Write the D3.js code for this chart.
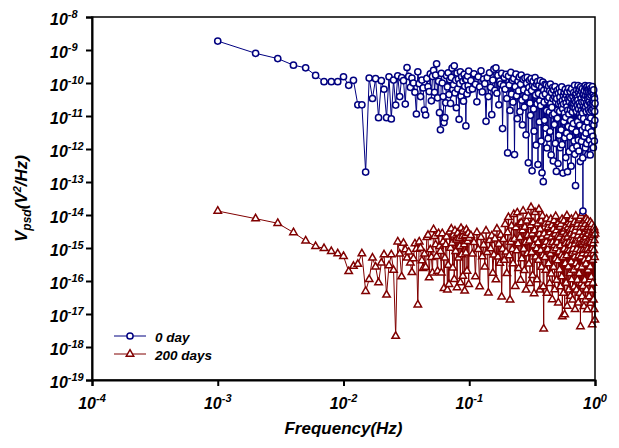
<!DOCTYPE html>
<html>
<head>
<meta charset="utf-8">
<script src="https://cdn.jsdelivr.net/npm/d3@7"></script>
<style>
  body { margin: 0; background: #fff; }
  text { font-family: Arial, "Liberation Sans", sans-serif; font-weight: bold; font-style: italic; fill: #000; }
</style>
</head>
<body>
<div id="chart"></div>
<script>
// frequency grid: 1..100 mHz in 1 mHz steps, then 0.103..1 Hz in 3 mHz steps
const lowFreq = d3.range(1, 101).map(k => +(k * 0.001).toFixed(3));
const highFreq = d3.range(1, 301).map(i => +(0.1 + i * 0.003).toFixed(3));

// log10 of PSD, 0 day
const day0Low = [
  -8.73,-9.10,-9.26,-9.46,-9.54,-9.77,-9.96,-9.96,-9.96,-9.81,
  -10.07,-9.92,-10.66,-10.66,-12.70,-9.85,-10.47,-9.87,-11.05,-9.93,
  -10.19,-11.05,-9.81,-11.09,-9.91,-10.67,-9.78,-10.41,-9.84,-9.93,
  -10.64,-9.53,-9.80,-10.13,-9.85,-10.00,-10.28,-10.94,-9.66,-10.02,
  -10.41,-9.91,-10.15,-10.82,-10.97,-9.86,-10.11,-10.26,-9.72,-10.54,
  -9.80,-9.62,-10.28,-9.76,-9.42,-10.45,-9.95,-10.90,-11.42,-9.71,
  -10.00,-10.41,-11.20,-11.05,-10.60,-9.78,-10.12,-9.69,-10.35,-9.90,
  -10.62,-9.83,-9.55,-10.20,-10.05,-9.48,-10.30,-9.92,-10.75,-9.70,
  -10.18,-9.88,-11.10,-10.02,-9.66,-10.40,-9.81,-10.25,-9.95,-10.55,
  -9.74,-10.10,-9.87,-11.30,-9.90,-10.33,-9.79,-10.08,-9.64,-10.21
];
const day0High = [
  -9.93,-10.18,-9.72,-10.04,-10.57,-9.81,-10.12,-9.63,-10.27,-9.88,
  -10.02,-11.16,-9.84,-10.41,-9.69,-10.13,-10.96,-9.91,-9.58,-10.22,
  -9.54,-10.31,-9.77,-10.66,-9.94,-10.03,-9.71,-11.38,-10.08,-9.83,
  -10.19,-9.74,-10.47,-12.12,-9.79,-10.06,-10.83,-9.68,-10.34,-9.92,
  -10.58,-9.86,-12.17,-10.11,-9.73,-10.39,-11.08,-9.94,-10.24,-9.82,
  -10.87,-10.04,-9.76,-10.52,-11.27,-9.89,-10.21,-10.73,-9.85,-10.43,
  -11.57,-10.01,-9.83,-10.28,-12.42,-10.14,-9.92,-10.61,-10.98,-9.87,
  -10.23,-12.66,-10.06,-9.95,-10.79,-11.46,-10.12,-9.84,-10.37,-11.88,
  -10.03,-10.63,-9.96,-12.47,-10.32,-10.07,-11.18,-10.54,-9.93,-10.69,
  -11.76,-10.13,-12.72,-10.38,-9.97,-12.99,-10.22,-10.58,-11.13,-10.04,
  -10.33,-11.37,-10.06,-10.84,-11.97,-10.18,-10.52,-11.68,-10.09,-10.44,
  -10.88,-10.24,-11.47,-10.03,-10.62,-12.18,-10.29,-10.74,-10.97,-10.14,
  -10.48,-12.36,-10.21,-10.93,-11.26,-10.42,-10.11,-11.83,-10.57,-10.34,
  -12.68,-10.47,-10.23,-11.07,-10.82,-12.44,-10.31,-10.63,-11.58,-10.17,
  -10.86,-10.43,-11.96,-10.58,-10.27,-11.42,-10.69,-10.12,-11.87,-10.53,
  -10.78,-12.73,-10.38,-10.64,-11.17,-10.28,-10.91,-11.66,-10.47,-10.19,
  -11.04,-12.26,-10.61,-10.36,-11.52,-10.72,-10.27,-12.69,-10.83,-10.48,
  -11.32,-10.16,-10.94,-12.08,-10.57,-10.42,-11.63,-10.26,-10.81,-11.14,
  -10.46,-12.52,-10.68,-10.18,-11.37,-10.63,-10.88,-11.98,-10.41,-10.73,
  -11.23,-10.29,-10.62,-11.76,-10.53,-10.07,-12.16,-10.77,-10.36,-13.11,
  -10.58,-10.32,-11.48,-10.86,-10.21,-11.92,-10.67,-10.44,-11.17,-10.52,
  -10.08,-11.73,-10.79,-10.27,-12.06,-10.62,-10.18,-11.28,-10.93,-10.37,
  -12.38,-10.69,-10.12,-11.03,-10.47,-10.84,-11.77,-10.26,-10.58,-11.43,
  -10.17,-10.91,-12.27,-13.88,-10.36,-10.72,-11.08,-10.33,-10.57,-11.62,
  -10.23,-10.78,-11.34,-10.46,-10.08,-11.97,-10.73,-10.38,-11.52,-10.16,
  -10.87,-10.61,-11.84,-10.27,-10.12,-11.18,-10.66,-10.43,-12.17,-10.49,
  -10.19,-11.36,-10.82,-10.28,-11.04,-10.57,-10.09,-11.73,-10.42,-10.88,
  -10.32,-12.18,-10.64,-10.17,-11.06,-10.74,-10.37,-11.48,-10.22,-10.83,
  -11.87,-10.28,-10.63,-11.24,-10.11,-10.54,-11.62,-10.78,-10.34,-11.96,
  -10.57,-10.21,-11.27,-10.68,-10.42,-11.76,-10.48,-10.86,-11.13,-10.62
];

// log10 of PSD, 200 days
const day200Low = [
  -13.88,-14.11,-14.25,-14.53,-14.78,-14.95,-15.01,-15.10,-15.17,-15.25,
  -15.71,-15.55,-15.49,-15.17,-16.31,-15.95,-15.30,-15.57,-16.05,-15.45,
  -15.20,-16.42,-15.53,-15.20,-15.67,-17.67,-14.81,-15.18,-15.87,-14.85,
  -15.05,-15.30,-15.12,-15.45,-15.74,-15.32,-14.87,-15.03,-16.72,-14.81,
  -15.00,-15.38,-15.62,-15.18,-15.58,-14.68,-14.61,-15.90,-15.05,-15.28,
  -15.75,-14.44,-14.65,-14.90,-15.25,-15.70,-14.56,-14.95,-15.10,-15.75,
  -14.56,-14.81,-16.22,-15.30,-14.90,-14.66,-16.27,-15.52,-16.10,-14.51,
  -15.00,-14.42,-14.85,-15.60,-14.60,-15.95,-14.48,-15.10,-14.75,-16.20,
  -14.55,-15.30,-14.70,-14.95,-16.05,-14.40,-15.20,-14.65,-15.85,-14.50,
  -14.90,-16.30,-14.62,-15.15,-14.45,-15.70,-14.80,-14.55,-16.10,-14.70
];
const day200High = [
  -14.62,-15.18,-14.83,-15.87,-14.53,-15.04,-16.17,-14.68,-15.26,-14.91,
  -15.57,-14.48,-15.13,-16.36,-14.77,-15.02,-14.63,-15.76,-15.21,-14.72,
  -15.96,-14.42,-15.27,-14.88,-15.46,-14.61,-16.48,-15.03,-14.74,-15.37,
  -14.28,-15.12,-15.77,-14.53,-14.07,-15.23,-16.57,-14.82,-14.33,-15.04,
  -15.47,-13.98,-14.73,-16.16,-14.38,-15.08,-13.93,-14.87,-15.62,-14.27,
  -14.68,-15.97,-14.23,-15.32,-14.47,-13.88,-15.03,-15.68,-14.37,-14.83,
  -16.27,-14.18,-15.17,-14.62,-14.03,-15.48,-14.78,-16.07,-14.32,-13.77,
  -15.13,-14.57,-15.83,-14.23,-14.92,-16.38,-14.47,-13.92,-15.27,-14.73,
  -15.02,-15.96,-14.27,-14.84,-15.37,-13.83,-14.58,-16.27,-14.43,-15.07,
  -14.18,-15.58,-14.68,-14.03,-15.23,-16.17,-17.45,-14.57,-14.93,-15.28,
  -14.27,-15.67,-14.82,-14.12,-16.37,-14.63,-15.04,-14.38,-15.47,-14.22,
  -14.88,-16.07,-14.53,-15.18,-14.13,-15.78,-14.67,-14.32,-16.56,-14.83,
  -15.07,-14.43,-15.58,-14.17,-14.92,-16.26,-14.58,-15.33,-14.04,-15.02,
  -14.47,-15.97,-14.83,-14.27,-15.38,-14.63,-16.66,-14.23,-15.12,-14.68,
  -15.66,-14.37,-14.93,-16.17,-14.28,-15.22,-14.57,-15.87,-14.13,-17.08,
  -14.77,-15.28,-14.52,-16.37,-14.18,-15.03,-14.72,-17.02,-14.42,-15.47,
  -14.87,-14.33,-16.06,-14.58,-15.23,-14.02,-16.76,-14.67,-15.04,-14.38,
  -15.57,-14.23,-16.27,-14.82,-15.08,-14.47,-15.77,-14.28,-16.46,-14.93,
  -14.57,-15.42,-14.13,-15.96,-14.68,-15.17,-14.43,-16.57,-14.77,-15.03,
  -14.27,-15.67,-14.62,-16.18,-14.22,-15.27,-14.88,-16.86,-14.48,-15.12,
  -14.03,-15.47,-14.73,-16.27,-14.37,-15.04,-14.78,-15.97,-14.28,-15.57,
  -14.63,-16.66,-14.17,-15.23,-14.87,-15.77,-14.52,-16.37,-14.12,-15.08,
  -14.72,-17.38,-14.38,-15.27,-14.03,-16.07,-14.83,-15.58,-14.27,-16.47,
  -14.88,-13.95,-15.17,-14.62,-16.16,-14.37,-15.03,-14.73,-16.77,-14.18,
  -15.37,-14.83,-15.97,-14.52,-15.07,-14.28,-16.57,-14.67,-15.48,-14.12,
  -14.92,-16.27,-14.58,-15.18,-14.43,-16.87,-14.78,-15.03,-14.17,-15.67,
  -14.57,-16.07,-14.38,-15.32,-14.87,-16.47,-14.27,-15.08,-14.72,-15.96,
  -14.48,-15.57,-14.22,-16.67,-14.83,-15.17,-14.37,-15.88,-14.63,-16.27,
  -14.28,-15.02,-17.32,-14.68,-15.37,-14.52,-16.06,-14.87,-15.18,-14.42,
  -16.57,-14.62,-15.07,-14.38,-16.86,-14.77,-15.28,-14.47,-17.18,-14.57
];

const xTickExp = [-4, -3, -2, -1, 0];
const yTickExp = [-8, -9, -10, -11, -12, -13, -14, -15, -16, -17, -18, -19];
const seriesNames = ['0 day', '200 days'];

const width = 619, height = 448;
const margin = { top: 17, right: 24, bottom: 68, left: 92 };
const navy = '#000080', maroon = '#800000';

const svg = d3.select('#chart').append('svg')
  .attr('width', width)
  .attr('height', height);

const x = d3.scaleLog().domain([1e-4, 1]).range([margin.left, width - margin.right]);
const y = d3.scaleLog().domain([1e-19, 1e-8]).range([height - margin.bottom, margin.top]);

function toPoints(freqs, vals) {
  return freqs.map((f, i) => ({ f: f, v: Math.pow(10, vals[i]) }));
}
const day0 = toPoints(lowFreq, day0Low).concat(toPoints(highFreq, day0High));
const day200 = toPoints(lowFreq, day200Low).concat(toPoints(highFreq, day200High));

const line = d3.line().x(d => x(d.f)).y(d => y(d.v));
const tri = d3.symbol().type(d3.symbolTriangle).size(24);

// 200 days first, 0 day on top
const g200 = svg.append('g');
g200.append('path').datum(day200)
  .attr('d', line).attr('fill', 'none').attr('stroke', maroon).attr('stroke-width', 1);
g200.selectAll('path.m').data(day200).enter().append('path')
  .attr('class', 'm')
  .attr('d', tri)
  .attr('transform', d => `translate(${x(d.f)},${y(d.v)})`)
  .attr('fill', '#fff').attr('stroke', maroon).attr('stroke-width', 1.5);

const g0 = svg.append('g');
g0.append('path').datum(day0)
  .attr('d', line).attr('fill', 'none').attr('stroke', navy).attr('stroke-width', 1);
g0.selectAll('circle').data(day0).enter().append('circle')
  .attr('cx', d => x(d.f)).attr('cy', d => y(d.v)).attr('r', 3.1)
  .attr('fill', '#fff').attr('stroke', navy).attr('stroke-width', 1.5);

// frame
const x0 = x.range()[0], x1 = x.range()[1], yTop = y.range()[1], yBot = y.range()[0];
svg.append('rect')
  .attr('x', x0).attr('y', yTop).attr('width', x1 - x0).attr('height', yBot - yTop)
  .attr('fill', 'none').attr('stroke', '#000').attr('stroke-width', 1.5);

// axes with outward ticks
const xAxis = d3.axisBottom(x).tickValues(xTickExp.map(e => Math.pow(10, e))).tickSize(6).tickFormat('');
const yAxis = d3.axisLeft(y).tickValues(yTickExp.map(e => Math.pow(10, e))).tickSize(6).tickFormat('');
svg.append('g').attr('transform', `translate(0,${yBot})`).call(xAxis)
  .call(g => g.selectAll('line,path').attr('stroke', '#000').attr('stroke-width', 2));
svg.append('g').attr('transform', `translate(${x0},0)`).call(yAxis)
  .call(g => g.selectAll('line,path').attr('stroke', '#000').attr('stroke-width', 2));

// tick labels 10^n
xTickExp.forEach(e => {
  const t = svg.append('text')
    .attr('x', x(Math.pow(10, e))).attr('y', 409)
    .attr('text-anchor', 'middle').attr('font-size', 16);
  t.append('tspan').text('10');
  t.append('tspan').attr('font-size', 11).attr('dy', -7).text(e);
});
yTickExp.forEach(e => {
  const t = svg.append('text')
    .attr('x', 50).attr('y', y(Math.pow(10, e)) + 7.5)
    .attr('font-size', 16);
  t.append('tspan').text('10');
  t.append('tspan').attr('font-size', 11).attr('dy', -7).text(e);
});

// axis titles
svg.append('text')
  .attr('x', (x0 + x1) / 2).attr('y', 434)
  .attr('text-anchor', 'middle').attr('font-size', 17)
  .text('Frequency(Hz)');

const yt = svg.append('text')
  .attr('transform', `translate(27,${(yTop + yBot) / 2}) rotate(-90)`)
  .attr('text-anchor', 'middle').attr('font-size', 17);
yt.append('tspan').text('V');
yt.append('tspan').attr('font-size', 12).attr('dy', 4).text('psd');
yt.append('tspan').attr('dy', -4).text('(V');
yt.append('tspan').attr('font-size', 11).attr('dy', -6).text('2');
yt.append('tspan').attr('dy', 6).text('/Hz)');

// legend
const legend = svg.append('g');
[navy, maroon].forEach((c, i) => {
  const ly = 336 + i * 18;
  legend.append('line').attr('x1', 114).attr('x2', 146).attr('y1', ly).attr('y2', ly)
    .attr('stroke', c).attr('stroke-width', 1);
  if (i === 0) {
    legend.append('circle').attr('cx', 130).attr('cy', ly).attr('r', 3.1)
      .attr('fill', '#fff').attr('stroke', c).attr('stroke-width', 1.5);
  } else {
    legend.append('path').attr('d', tri).attr('transform', `translate(130,${ly})`)
      .attr('fill', '#fff').attr('stroke', c).attr('stroke-width', 1.5);
  }
  legend.append('text').attr('x', 155).attr('y', ly + 6).attr('font-size', 13.5)
    .text(seriesNames[i]);
});
</script>
</body>
</html>
